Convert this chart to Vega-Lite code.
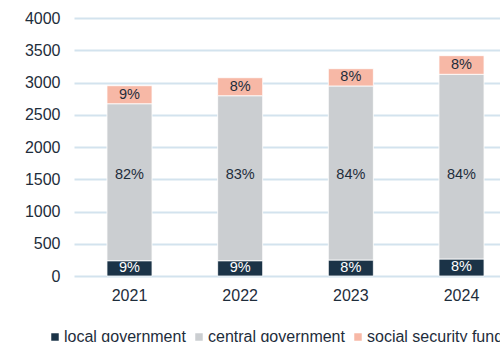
{
  "$schema": "https://vega.github.io/schema/vega-lite/v6.json",
  "autosize": {"type": "none"},
  "width": 426,
  "height": 258,
  "padding": {"left": 74, "top": 18, "right": 0, "bottom": 66},
  "background": "#ffffff",
  "config": {
    "font": "Liberation Sans",
    "view": {"stroke": null},
    "axis": {"labelFont": "Liberation Sans", "labelFontSize": 16, "labelColor": "#1e2d3b"}
  },
  "data": {
    "values": [
      {"year": "2021", "sector": "local government", "k": 1, "value": 237, "pct": "9%"},
      {"year": "2021", "sector": "central government", "k": 2, "value": 2434, "pct": "82%"},
      {"year": "2021", "sector": "social security fund", "k": 3, "value": 279, "pct": "9%"},
      {"year": "2022", "sector": "local government", "k": 1, "value": 237, "pct": "9%"},
      {"year": "2022", "sector": "central government", "k": 2, "value": 2558, "pct": "83%"},
      {"year": "2022", "sector": "social security fund", "k": 3, "value": 279, "pct": "8%"},
      {"year": "2023", "sector": "local government", "k": 1, "value": 248, "pct": "8%"},
      {"year": "2023", "sector": "central government", "k": 2, "value": 2698, "pct": "84%"},
      {"year": "2023", "sector": "social security fund", "k": 3, "value": 268, "pct": "8%"},
      {"year": "2024", "sector": "local government", "k": 1, "value": 264, "pct": "8%"},
      {"year": "2024", "sector": "central government", "k": 2, "value": 2863, "pct": "84%"},
      {"year": "2024", "sector": "social security fund", "k": 3, "value": 289, "pct": "8%"}
    ]
  },
  "transform": [
    {"stack": "value", "groupby": ["year"], "sort": [{"field": "k", "order": "ascending"}], "as": ["y0", "y1"]},
    {"calculate": "datum.k === 2 ? 1565 : (datum.y0 + datum.y1) / 2", "as": "ymid"}
  ],
  "encoding": {
    "x": {
      "field": "year", "type": "nominal",
      "scale": {"range": [0, 443], "paddingInner": 0.593, "paddingOuter": 0.298},
      "axis": {"title": null, "labelAngle": 0, "ticks": false, "domain": false, "grid": false, "labelPadding": 11}
    }
  },
  "layer": [
    {
      "mark": {"type": "bar", "stroke": "#ffffff", "strokeWidth": 0.8},
      "encoding": {
        "y": {
          "field": "y1", "type": "quantitative",
          "scale": {"domain": [0, 4000]},
          "axis": {"title": null, "values": [0, 500, 1000, 1500, 2000, 2500, 3000, 3500, 4000], "format": "d", "labelOverlap": false, "ticks": false, "domain": false, "gridColor": "#d3e3ee", "gridWidth": 2, "labelPadding": 14}
        },
        "y2": {"field": "y0"},
        "color": {
          "field": "sector", "type": "nominal",
          "scale": {"domain": ["local government", "central government", "social security fund"], "range": ["#1b3347", "#cbced1", "#f7b8a6"]},
          "legend": {
            "title": null, "orient": "none", "direction": "horizontal",
            "legendX": -27, "legendY": 311, "padding": 0,
            "symbolType": "square", "symbolSize": 56, "symbolStrokeWidth": 0,
            "labelFontSize": 16, "labelColor": "#1e2d3b", "labelFont": "Liberation Sans",
            "labelOffset": 1, "columnPadding": 5
          }
        }
      }
    },
    {
      "mark": {"type": "text", "fontSize": 14.5, "baseline": "middle", "align": "center"},
      "encoding": {
        "y": {
          "field": "ymid", "type": "quantitative",
          "scale": {"domain": [0, 4000]},
          "axis": {"title": null, "values": [0, 500, 1000, 1500, 2000, 2500, 3000, 3500, 4000], "format": "d", "labelOverlap": false, "ticks": false, "domain": false, "gridColor": "#d3e3ee", "gridWidth": 2, "labelPadding": 14}
        },
        "text": {"field": "pct", "type": "nominal"},
        "color": {
          "condition": {"test": "datum.k === 1", "value": "#ffffff"},
          "value": "#1e2d3b"
        }
      }
    }
  ]
}
